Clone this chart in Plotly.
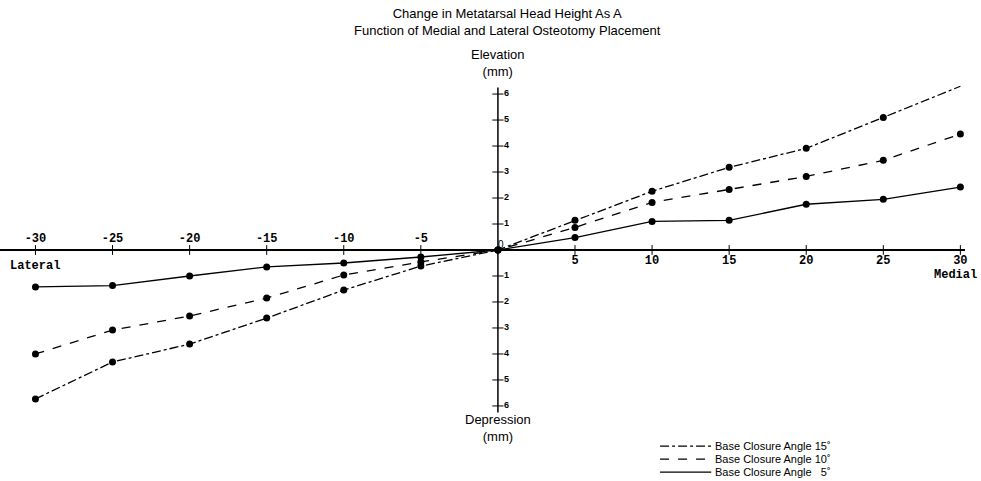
import plotly.graph_objects as go

# ---- data ----
placement = [-30, -25, -20, -15, -10, -5, 0, 5, 10, 15, 20, 25, 30]
angle_15 = [-5.73, -4.31, -3.62, -2.62, -1.54, -0.62, 0, 1.14, 2.26, 3.18, 3.91, 5.10, 6.30]
angle_10 = [-4.00, -3.08, -2.54, -1.85, -0.96, -0.46, 0, 0.87, 1.83, 2.33, 2.83, 3.45, 4.46]
angle_5 = [-1.42, -1.37, -1.00, -0.65, -0.50, -0.27, 0, 0.48, 1.10, 1.14, 1.76, 1.95, 2.42]

x_ticks = [-30, -25, -20, -15, -10, -5, 5, 10, 15, 20, 25, 30]
x_tick_labels = ["-30", "-25", "-20", "-15", "-10", "-5", "5", "10", "15", "20", "25", "30"]
y_ticks = [6, 5, 4, 3, 2, 1, -1, -2, -3, -4, -5, -6]
y_tick_labels = ["6", "5", "4", "3", "2", "1", "1", "2", "3", "4", "5", "6"]

series_names = ["Base Closure Angle 15˚", "Base Closure Angle 10˚", "Base Closure Angle   5˚"]
series_values = [angle_15, angle_10, angle_5]
series_dash = ["dashdot", "dash", "solid"]
series_last_marker = [False, True, True]

fig = go.Figure()

for name, vals, dash, last_marker in zip(series_names, series_values, series_dash, series_last_marker):
    sizes = [7] * len(vals)
    if not last_marker:
        sizes[-1] = 0
    fig.add_trace(go.Scatter(
        x=placement, y=vals, mode="lines+markers",
        line=dict(color="black", width=1.3, dash=dash),
        marker=dict(color="black", size=sizes, opacity=1, line=dict(width=0)),
        showlegend=False, name=name, cliponaxis=False,
    ))

# x tick marks and labels along the centre axis
fig.add_trace(go.Scatter(
    x=x_ticks, y=[0] * len(x_ticks), mode="markers+text",
    marker=dict(symbol="line-ns", size=7, line=dict(color="black", width=1)),
    text=["<b>" + t + "</b>" for t in x_tick_labels],
    textposition=["top center" if v < 0 else "bottom center" for v in x_ticks],
    textfont=dict(family="Liberation Mono", size=12, color="black"),
    showlegend=False, hoverinfo="skip", cliponaxis=False,
))

# y tick marks and labels along the centre axis
fig.add_trace(go.Scatter(
    x=[0] * len(y_ticks), y=y_ticks, mode="markers+text",
    marker=dict(symbol="line-ew", size=8, line=dict(color="black", width=1)),
    text=["<b>" + t + "</b>" for t in y_tick_labels],
    textposition="middle right",
    textfont=dict(family="Liberation Sans", size=9, color="black"),
    showlegend=False, hoverinfo="skip", cliponaxis=False,
))
fig.add_trace(go.Scatter(
    x=[0], y=[0], mode="text", text=["0"], textposition="top right",
    textfont=dict(family="Liberation Sans", size=10, color="black"),
    showlegend=False, hoverinfo="skip",
))

# vertical centre axis
fig.add_shape(type="line", xref="x", yref="y", x0=0, x1=0, y0=-6.25, y1=6.25,
              line=dict(color="black", width=1.5))

title_font = dict(family="Liberation Sans", size=13, color="black")
fig.add_annotation(text="Change in Metatarsal Head Height As A<br>Function of Medial and Lateral Osteotomy Placement",
                   xref="paper", yref="paper", x=0.526, y=1.147, xanchor="center", yanchor="top",
                   showarrow=False, font=title_font)
fig.add_annotation(text="Elevation<br>(mm)", xref="x", yref="paper", x=0, y=0.945,
                   xanchor="center", yanchor="bottom", showarrow=False, font=title_font)
fig.add_annotation(text="Depression<br>(mm)", xref="x", yref="paper", x=0, y=0.078,
                   xanchor="center", yanchor="top", showarrow=False, font=title_font)
mono = dict(family="Liberation Mono", size=12, color="black")
fig.add_annotation(text="<b>Lateral</b>", x=-30, y=-0.6, xanchor="center", yanchor="middle",
                   showarrow=False, font=mono)
fig.add_annotation(text="<b>Medial</b>", xref="paper", x=1.015, y=-0.97, xanchor="right", yanchor="middle",
                   showarrow=False, font=mono)

# manual legend (compact rows as in the reference)
legend_font = dict(family="Liberation Sans", size=11, color="black")
for i, (name, dash) in enumerate(zip(series_names, series_dash)):
    ly = -0.016 - i * 0.0342
    fig.add_shape(type="line", xref="paper", yref="paper", x0=0.684, x1=0.737, y0=ly, y1=ly,
                  line=dict(color="black", width=1.3, dash=dash))
    fig.add_annotation(text=name, xref="paper", yref="paper", x=0.739, y=ly,
                       xanchor="left", yanchor="middle", showarrow=False, font=legend_font)

fig.update_layout(
    width=981, height=481,
    margin=dict(l=0, r=16, t=60, b=41, autoexpand=False),
    paper_bgcolor="white", plot_bgcolor="white",
    xaxis=dict(range=[-32.3, 30.3], visible=False, showgrid=False, zeroline=False),
    yaxis=dict(range=[-7.31, 7.31], showgrid=False, zeroline=True, zerolinecolor="black",
               zerolinewidth=1.5, showticklabels=False, ticks=""),
    showlegend=False,
)

fig.write_html("out.html", config={"displayModeBar": False},
               post_script="document.body.style.margin='0';document.body.style.overflow='hidden';")
